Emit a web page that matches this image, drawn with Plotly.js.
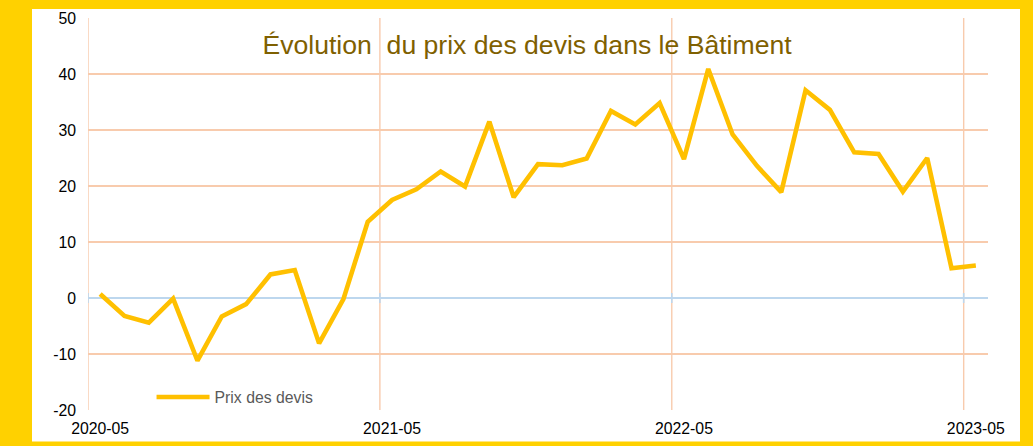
<!DOCTYPE html>
<html>
<head>
<meta charset="utf-8">
<script src="https://cdn.plot.ly/plotly-3.0.1.min.js"></script>
<style>html,body{margin:0;padding:0;background:#FFD100;}#chart{width:1033px;height:446px;}</style>
</head>
<body>
<div id="chart"></div>
<script>
const months = ['2020-05','2020-06','2020-07','2020-08','2020-09','2020-10','2020-11','2020-12',
  '2021-01','2021-02','2021-03','2021-04','2021-05','2021-06','2021-07','2021-08','2021-09','2021-10','2021-11','2021-12',
  '2022-01','2022-02','2022-03','2022-04','2022-05','2022-06','2022-07','2022-08','2022-09','2022-10','2022-11','2022-12',
  '2023-01','2023-02','2023-03','2023-04','2023-05'];
const prixDevis = [0.7,-3.2,-4.4,-0.1,-11.2,-3.3,-1.1,4.2,5.0,-8.1,-0.2,13.6,17.5,19.4,22.6,19.9,31.5,18.0,23.9,23.7,24.9,33.4,31.0,34.8,24.8,40.9,29.2,23.6,18.9,37.1,33.6,26.0,25.7,19.0,25.0,5.3,5.8];
const xTickLabels = ['2020-05','2021-05','2022-05','2023-05'];
const yTickVals = [-20,-10,0,10,20,30,40,50];
const yTickLabels = ['-20','-10','0','10','20','30','40','50'];
const seriesName = 'Prix des devis';
const chartTitle = 'Évolution\u00a0 du prix des devis dans le Bâtiment';

const FONT = 'Liberation Sans, Arial, sans-serif';
const FS = 15.8;
const n = months.length;
const range = [-0.5, n - 0.5];
const boundaries = xTickLabels.map(l => months.indexOf(l) - 0.5);

const trace = {
  x: months, y: prixDevis, type: 'scatter', mode: 'lines', name: seriesName,
  line: {color: '#FFC000', width: 4.6}
};

const shapes = [{type: 'rect', xref: 'paper', yref: 'paper', layer: 'below',
  x0: (32 - 88) / 900, x1: (1020 - 88) / 900, y0: (410 - 441.5) / 392, y1: (410 - 9) / 392,
  fillcolor: '#FFFFFF', line: {width: 0}}];
boundaries.forEach(b => {
  shapes.push({type: 'line', xref: 'x', yref: 'paper', layer: 'below', x0: b, x1: b, y0: 0, y1: 1,
    line: {color: '#F8CBAD', width: 1.4}});
  shapes.push({type: 'line', xref: 'x', yref: 'y', ysizemode: 'pixel', yanchor: 0, layer: 'below',
    x0: b, x1: b, y0: -5, y1: 5, line: {color: '#BDD7EE', width: 1.6}});
});

const layout = {
  width: 1033, height: 446,
  margin: {l: 88, r: 45, t: 18, b: 36},
  paper_bgcolor: '#FFD100', plot_bgcolor: 'rgba(0,0,0,0)',
  font: {family: FONT, size: FS, color: '#000'},
  title: {text: chartTitle, font: {family: FONT, size: 26.6, color: '#7F6000'},
    xref: 'container', x: 0.5102, xanchor: 'center', yref: 'container', y: 0.8987, yanchor: 'middle'},
  showlegend: true,
  legend: {x: 0.0706, xanchor: 'left', y: 0.0324, yanchor: 'middle', bgcolor: 'rgba(0,0,0,0)',
    font: {family: FONT, size: FS, color: '#595959'}, itemwidth: 53},
  xaxis: {type: 'category', range: range, tickmode: 'array', tickvals: xTickLabels, ticktext: xTickLabels,
    showgrid: false, zeroline: false, showline: false, ticks: '', ticklabelstandoff: 7,
    tickfont: {family: FONT, size: FS, color: '#000'}},
  yaxis: {range: [-20, 50], tickmode: 'array', tickvals: yTickVals, ticktext: yTickLabels,
    showgrid: true, gridcolor: '#F8CBAD', gridwidth: 1.3,
    zeroline: true, zerolinecolor: '#BDD7EE', zerolinewidth: 1.6, showline: false, ticks: '', ticklabelstandoff: 11,
    tickfont: {family: FONT, size: FS, color: '#000'}},
  shapes: shapes
};

Plotly.newPlot('chart', [trace], layout, {displayModeBar: false, staticPlot: true});
</script>
</body>
</html>
